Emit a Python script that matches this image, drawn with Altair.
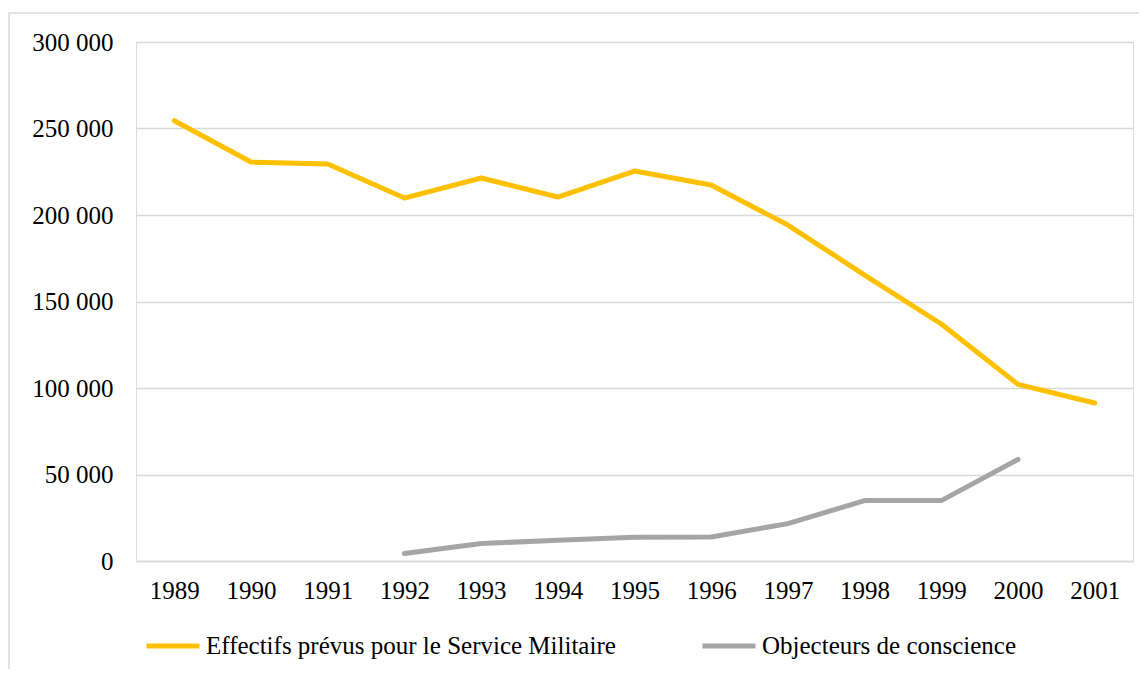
import altair as alt
import pandas as pd

years = [1989, 1990, 1991, 1992, 1993, 1994, 1995, 1996, 1997, 1998, 1999, 2000, 2001]
effectifs = [254500, 230600, 229500, 209800, 221400, 210400, 225400, 217300, 194200, 165300, 137000, 102100, 91300]
obj_years = [1992, 1993, 1994, 1995, 1996, 1997, 1998, 1999, 2000]
objecteurs = [4300, 10100, 12000, 13700, 13900, 21600, 34900, 34900, 58700]
series_names = ["Effectifs prévus pour le Service Militaire", "Objecteurs de conscience"]
series_colors = ["#FFC000", "#A5A5A5"]
y_ticks = [0, 50000, 100000, 150000, 200000, 250000, 300000]

rows = [{"year": str(y), "value": v, "series": series_names[0]} for y, v in zip(years, effectifs)]
rows += [{"year": str(y), "value": v, "series": series_names[1]} for y, v in zip(obj_years, objecteurs)]
df = pd.DataFrame(rows)

FONT = "Liberation Serif"
FS = 25

lines = alt.Chart(df).mark_line(strokeWidth=5, strokeCap="round", strokeJoin="round").encode(
    x=alt.X("year:O", sort=[str(y) for y in years],
            scale=alt.Scale(type="point", padding=0.5, domain=[str(y) for y in years]),
            axis=alt.Axis(title=None, labelAngle=0, ticks=False, domain=True,
                          domainColor="#D9D9D9", domainWidth=1.3, labelPadding=17,
                          labelFont=FONT, labelFontSize=FS, labelColor="#000000")),
    y=alt.Y("value:Q", scale=alt.Scale(domain=[0, 300000], nice=False),
            axis=alt.Axis(title=None, values=y_ticks, ticks=False, domain=False,
                          grid=True, gridColor="#D9D9D9", gridWidth=1.3,
                          labelPadding=23, labelFont=FONT, labelFontSize=FS, labelColor="#000000",
                          labelExpr="replace(format(datum.value, ','), ',', ' ')")),
    color=alt.Color("series:N", scale=alt.Scale(domain=series_names, range=series_colors),
                    legend=alt.Legend(title=None, orient="none", legendX=8, legendY=575,
                                      direction="horizontal", symbolType="stroke",
                                      symbolStrokeWidth=5, symbolSize=2809, labelOffset=4,
                                      labelFont=FONT, labelFontSize=FS, labelColor="#000000",
                                      labelLimit=0, columnPadding=76, padding=0)),
)

border = alt.Chart(pd.DataFrame({"a": [0]})).mark_rect(
    fill=None, stroke="#D9D9D9", strokeWidth=1.5, clip=False
).encode(x=alt.value(-127), y=alt.value(-29), x2=alt.value(1100), y2=alt.value(700))

chart = alt.layer(border, lines).properties(
    width=997, height=519,
    autosize=alt.AutoSizeParams(type="none"),
    padding={"left": 128, "top": 34, "right": 6, "bottom": 108},
).configure_view(stroke=None).configure(background="white")

chart.save("out.html", embed_options={"renderer": "svg", "actions": False})
